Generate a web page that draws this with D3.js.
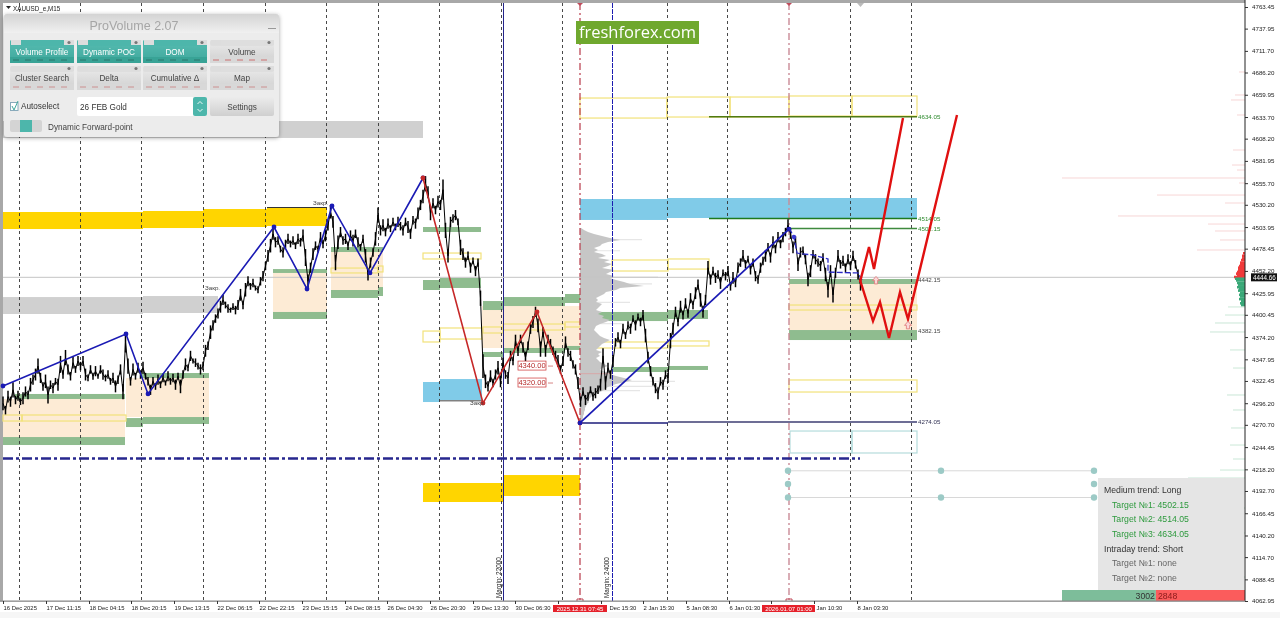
<!DOCTYPE html>
<html><head><meta charset="utf-8">
<script src="https://cdn.jsdelivr.net/npm/d3@7"></script>
<style>
html,body{margin:0;padding:0;background:#fff;overflow:hidden}
svg{display:block;filter:blur(0.35px)}
text{font-family:"Liberation Sans",Arial,sans-serif}
</style></head><body>
<svg id="c" width="1280" height="618"></svg>
<script>
// ---------- axes ----------
const yTickValues=[4763.45,4737.95,4711.70,4686.20,4659.95,4633.70,4608.20,4581.95,4555.70,4530.20,4503.95,4478.45,4452.20,4425.95,4400.45,4374.20,4347.95,4322.45,4296.20,4270.70,4244.45,4218.20,4192.70,4166.45,4140.20,4114.70,4088.45,4062.95];
const xTickCols=[3,46,89,131,174,217,259,302,345,387,430,473,515,558,601,643,686,729,771,814,857];
const xTickLabels=["16 Dec 2025","17 Dec 11:15","18 Dec 04:15","18 Dec 20:15","19 Dec 13:15","22 Dec 06:15","22 Dec 22:15","23 Dec 15:15","24 Dec 08:15","26 Dec 04:30","26 Dec 20:30","29 Dec 13:30","30 Dec 06:30","","Dec 15:30","2 Jan 15:30","5 Jan 08:30","6 Jan 01:30","","Jan 10:30","8 Jan 03:30"];
const xTickLabelShift=[0,0,0,0,0,0,0,0,0,0,0,0,0,0,8,0,0,0,0,2,0];
const currentPrice=4444.66;
// ---------- price series: one value every 2.5 chart columns, from column 3 ----------
const priceStart=3, priceStep=2.5;
const priceValues=[
4296,4288,4304,4298,4312,4300,4305,4298,4302,4310,4306,4318,4324,4330,4340,4326,4316,4322,4306,4318,
4314,4322,4318,4342,4330,4350,4336,4328,4344,4336,4346,4340,4346,4330,4326,4336,4328,4334,4328,4336,
4330,4326,4330,4322,4326,4316,4324,4336,4310,4368,4340,4322,4336,4328,4338,4330,4338,4328,4322,4312,
4322,4316,4324,4318,4326,4320,4328,4322,4326,4318,4328,4316,4330,4342,4338,4352,4346,4344,4340,4336,
4340,4358,4364,4380,4388,4396,4402,4410,4418,4412,4408,4406,4410,4406,4412,4424,4412,4430,4440,4434,
4438,4432,4430,4440,4446,4458,4470,4482,4496,4486,4488,4478,4474,4484,4490,4484,4488,4482,4490,4486,
4494,4468,4440,4456,4472,4482,4478,4492,4484,4494,4506,4522,4510,4462,4486,4498,4488,4490,4482,4494,
4488,4496,4486,4480,4490,4470,4448,4462,4474,4490,4518,4500,4506,4498,4508,4502,4510,4504,4510,4505,
4500,4510,4504,4496,4512,4508,4520,4530,4540,4555,4545,4520,4532,4524,4534,4530,4548,4500,4470,4510,
4514,4518,4510,4480,4472,4462,4470,4456,4464,4452,4462,4420,4340,4322,4316,4328,4320,4330,4338,4322,
4344,4330,4326,4352,4346,4370,4358,4372,4362,4350,4364,4384,4392,4404,4388,4360,4380,4358,4372,4366,
4358,4352,4346,4336,4346,4368,4356,4352,4342,4336,4320,4298,4310,4300,4304,4312,4304,4308,4312,4318,
4352,4320,4338,4330,4346,4368,4374,4366,4384,4376,4388,4384,4396,4388,4398,4392,4400,4376,4350,4334,
4322,4314,4308,4322,4318,4330,4326,4370,4384,4404,4392,4410,4400,4414,4402,4420,4412,4426,4436,4418,
4404,4418,4456,4442,4452,4444,4448,4438,4450,4446,4452,4434,4444,4438,4456,4462,4470,4460,4466,4454,
4462,4446,4442,4456,4464,4470,4480,4468,4486,4478,4492,4484,4492,4498,4506,4496,4480,4488,4460,4474,
4476,4466,4442,4452,4472,4466,4462,4458,4468,4448,4430,4452,4424,4450,4470,4460,4464,4456,4466,4458,
4470,4460,4448,4436];
// half high-low range of each bar, read alongside the values above
const priceRanges=[
8,5,7,6,9,5,6,4,7,6,5,8,6,7,9,6,5,8,10,5,
6,4,7,10,5,9,6,5,7,4,6,5,6,7,4,5,4,6,3,5,
6,4,5,4,6,7,5,6,9,12,9,5,7,4,6,5,7,4,5,6,
5,4,6,4,5,3,6,4,5,6,4,8,5,7,4,6,3,5,4,6,
5,7,5,8,6,5,6,7,6,4,5,3,4,5,6,7,5,8,6,4,
5,3,4,5,6,5,7,8,7,6,5,4,6,5,6,4,5,4,6,5,
7,10,8,6,7,5,4,6,5,7,6,8,7,9,8,6,5,6,5,6,
7,5,6,4,5,8,7,6,5,8,9,6,7,5,6,4,5,4,6,5,
6,5,7,6,5,6,7,6,8,9,7,8,6,5,7,6,12,9,8,6,
5,6,4,9,7,6,5,6,4,6,5,9,14,8,6,7,5,6,8,7,
6,5,7,6,5,7,6,5,6,7,5,6,7,6,8,9,6,7,5,6,
5,6,7,5,6,7,5,6,5,6,7,6,5,6,5,4,5,6,5,7,
9,8,6,5,7,5,6,5,6,4,5,6,4,6,4,5,6,8,7,6,
5,6,7,5,6,5,6,9,7,6,5,7,5,6,5,6,5,7,6,8,
7,6,8,6,5,6,5,7,4,5,6,5,7,5,6,5,7,5,4,6,
5,6,5,6,5,7,5,6,7,5,6,5,6,5,7,6,7,5,8,6,
5,6,8,7,5,6,5,6,5,8,9,7,9,6,7,5,6,5,6,5,
6,5,6,7];
// ---------- zones: [col0, col1, priceTop, priceBottom] ----------
const goldZones=[[3,143,4521.7,4501.6],[143,203,4522.9,4502.8],[203,267,4525.2,4504],[267,327,4526.4,4505.2],[423,503,4202.1,4179.7],[503,580,4211.5,4186.8]];
const grayZones=[[3,423,4629,4609],[3,143,4421.4,4401.4],[143,218,4422.6,4402.6]];
const skyZones=[[423,440,4321.2,4297.6],[440,482,4324.7,4300],[580,667,4537,4512.3],[667,917,4538.2,4514.6]];
const peachZones=[[3,125,4301.2,4256.3],[126,209,4325.9,4279.9],[273,327,4449.8,4403.8],[331,383,4474.5,4429.7],[482,580,4410.8,4361.3],[789,917,4436.8,4382.5]];
const greenZones=[[15,125,4307.1,4301.2],[3,125,4256.3,4246.9],[140,209,4331.8,4325.9],[126,143,4278.7,4268.1],[143,209,4279.9,4271.7],
[273,327,4454.4,4449.8],[273,327,4403.8,4395.5],[331,383,4480.4,4474.5],[331,378,4429.7,4420.3],[378,383,4433.2,4422.6],
[423,481,4504,4498.1],[423,440,4441.5,4429.7],[440,481,4443.9,4432.1],
[483,503,4416.7,4406.1],[503,565,4421.4,4410.8],[565,580,4425,4414.4],[483,503,4356.6,4350.7],[503,565,4361.3,4355.4],[565,580,4363.7,4359],
[593,668,4403.8,4393.1],[668,708,4406.1,4395.5],[612,668,4338.9,4333],[668,708,4340.1,4335.4],
[789,917,4442.7,4436.8],[789,917,4382.5,4370.7]];
const yellowBoxes=[[3,22,4282.3,4275.2],[22,126,4282.3,4275.2],[331,378,4455.6,4449.8],[378,383,4458,4451],[423,481,4473.3,4466.3],[423,440,4381.3,4368.4],[440,482,4384.9,4371.9],
[483,503,4386.1,4379],[503,565,4389.6,4382.5],[565,580,4392,4386.1],[612,668,4465.1,4452.1],[668,709,4466.3,4454.4],[590,668,4368.4,4361.3],[668,709,4369.6,4363.7],
[580,667,4656.1,4632.5],[667,730,4657.3,4633.7],[730,789,4657.3,4633.7],[789,852,4658.5,4634.9],[852,917,4658.5,4634.9],[789,917,4412,4406.1],[789,917,4323.6,4309.4]];
const tealBoxes=[[790,852,4263.4,4237.5],[852,917,4263.4,4237.5]];
// ---------- levels: [col0, col1, price, colour, width] ----------
const levels=[[709,917,4634.05,"#4f7a12",1.3],[709,917,4514.05,"#1d7a1d",1.5],[789,917,4502.15,"#3f8a3f",1.5],[580,668,4272.9,"#1c1c7a",1.5],[668,917,4274.05,"#3d3d72",1.5],[267,327,4527,"#333",1],[440,482,4299,"#444",1]];
const levelLabels=[[918,4634.05,"4634.05","#2e8b2e"],[918,4514.05,"4514.05","#2e8b2e"],[918,4502.15,"4502.15","#2e8b2e"],[918,4442.15,"4442.15","#444"],[918,4382.15,"4382.15","#444"],[918,4274.05,"4274.05","#335"]];
// ---------- zigzags: columns and prices ----------
const blueZigCols=[3,126,148,274,307,332,370,423];
const blueZigPrices=[4316.5,4377.8,4307.1,4504,4430.9,4528.8,4449.8,4561.8];
const redZigCols=[423,483,537,580];
const redZigPrices=[4561.8,4296.4,4403.8,4272.9];
const blue2Cols=[580,789];
const blue2Prices=[4272.9,4501.6];
const stepCols=[789,794,797,803,813,828,828,858,862];
const stepPrices=[4502.8,4492.2,4473.3,4472.2,4471,4466.3,4450.9,4449.8,4441.5];
const proj1Cols=[860,869,874,903];
const proj1Prices=[4439.1,4480.4,4454.5,4632.5];
const proj2Cols=[860,873,880,889,900,908,957];
const proj2Prices=[4441.5,4393.1,4415.6,4373.1,4427.3,4395.5,4636.1];
// ---------- verticals ----------
const dottedCols=[19,80,141,203,265,326,378,439,501,562,667,727,850,911];
// ---------- session volume profile (one row per bucket, from top price down) ----------
const profileTop=4502.8, profileBucket=2.358;
const profileWidths=[1,4,8,14,22,30,40,28,22,20,14,18,14,22,26,18,30,24,32,28,22,34,30,26,34,30,36,44,50,64,40,36,26,24,20,16,18,16,22,20,18,16,22,18,24,22,30,26,20,16,15,14,16,18,20,24,30,26,22,20,18,16,22,18,20,16,18,20,24,28,22,20,26,30,36,44,52,46,36,30,26,24,20,16,12,10,8,9,7,6,5,5,4,4,3,3,2,1];
const profileTailPrices=[4489,4476,4445,4437,4415,4390,4322,4316,4311];
const profileTailWidths=[62,40,78,72,50,42,95,90,60];
// ---------- market depth at right edge: [price, length] ----------
const depthAsks=[[4686.8,6],[4659.7,10],[4653.8,14],[4636.1,8],[4594.8,12],[4577.1,13],[4571.2,8],[4561.8,183],[4555.9,6],[4541.7,88],[4532.3,20],[4517,127],[4507.5,37],[4499.3,30],[4488.7,25],[4476.9,48]];
const depthAskCore=[[4473,2],[4470,3],[4467,3],[4465,4],[4462,5],[4460,5],[4458,6],[4456,7],[4453,7],[4451,8],[4449,9],[4447,8],[4445,11]];
const depthBidCore=[[4443,10],[4441,9],[4438,8],[4436,7],[4433,8],[4431,6],[4429,7],[4426,5],[4424,6],[4422,5],[4419,6],[4417,4],[4414,5],[4412,4]];
const depthBids=[[4409.7,17],[4400.2,20],[4390.8,30],[4380.2,35],[4359,15],[4337.7,12],[4305.9,18],[4288.2,12],[4267,14],[4246.9,15],[4230.4,12],[4217.4,25],[4208,57],[4172.6,17],[4143.1,23],[4091.2,20]];
// ---------- info panel ----------
const infoLines=[["Medium trend: Long",0,"#333"],["Target №1: 4502.15",1,"#2e9a3e"],["Target №2: 4514.05",1,"#2e9a3e"],["Target №3: 4634.05",1,"#2e9a3e"],["Intraday trend: Short",0,"#333"],["Target №1: none",1,"#666"],["Target №2: none",1,"#666"]];
const buyVolume=3002, sellVolume=2848;
// ---------- UI panel ----------
const uiButtons=[["Volume Profile",0,0,1],["Dynamic POC",1,0,1],["DOM",2,0,1],["Volume",3,0,0],["Cluster Search",0,1,0],["Delta",1,1,0],["Cumulative Δ",2,1,0],["Map",3,1,0]];
const dotCols=[788,941,1094], dotPrices=[4216.5,4201,4185];

const W=1280,H=618,svg=d3.select("#c");
const x=d3.scaleLinear().domain([0,1280]).range([0,1280]);
const y=d3.scaleLinear().domain([4763.45,4062.95]).range([7,601]);
const line=(cs,ps)=>d3.line().x((d,i)=>x(cs[i])).y((d,i)=>y(ps[i]))(ps);
const defs=svg.append("defs");
function grad(id,a,b){const g=defs.append("linearGradient").attr("id",id).attr("x1",0).attr("x2",0).attr("y1",0).attr("y2",1);g.append("stop").attr("offset",0).attr("stop-color",a);g.append("stop").attr("offset",1).attr("stop-color",b);}
grad("gH","#d4d4d4","#f0f0f0");grad("gT","#57bdb2","#3fa79c");grad("gG","#ececec","#cfcfcf");
const f=defs.append("filter").attr("id","sh").attr("x","-5%").attr("y","-5%").attr("width","110%").attr("height","115%");
f.append("feDropShadow").attr("dx",0).attr("dy",1).attr("stdDeviation",2).attr("flood-color","#000").attr("flood-opacity",.35);

svg.append("rect").attr("width",W).attr("height",H).attr("fill","#fff");
svg.append("rect").attr("x",0).attr("y",612).attr("width",W).attr("height",6).attr("fill","#f6f6f6");
// borders
svg.append("rect").attr("x",0).attr("y",0).attr("width",3).attr("height",601).attr("fill","#a8a8a8");
svg.append("rect").attr("x",0).attr("y",0).attr("width",1245).attr("height",3).attr("fill","#a8a8a8");

function zones(data,fill,stroke){svg.append("g").selectAll("rect").data(data).join("rect")
 .attr("x",d=>x(d[0])).attr("width",d=>x(d[1])-x(d[0])).attr("y",d=>y(d[2])).attr("height",d=>y(d[3])-y(d[2]))
 .attr("fill",fill).attr("stroke",stroke||"none").attr("stroke-width",stroke?1.2:0);}
zones(peachZones,"#fdebd5");
zones(grayZones,"#d0d0d0");
zones(goldZones,"#ffd500");
zones(skyZones,"#80cbe8");
zones(greenZones,"#8fbc8f");
zones(yellowBoxes,"none","#f2e27a");
zones(tealBoxes,"none","#b5dcdc");

// volume profile
const prof=svg.append("g");
prof.selectAll("line.t").data(profileTailPrices).join("line")
 .attr("x1",x(580)).attr("x2",(d,i)=>x(580+profileTailWidths[i])).attr("y1",d=>y(d)).attr("y2",d=>y(d)).attr("stroke","#e6e6e6").attr("stroke-width",1.2);
prof.append("path").datum(profileWidths)
 .attr("d",d3.area().curve(d3.curveLinear).x0(x(580)).x1(d=>x(580+d)).y((d,i)=>y(profileTop-i*profileBucket)))
 .attr("fill","#c6c6c6");
// verticals
svg.append("g").selectAll("line").data(dottedCols).join("line").attr("x1",d=>x(d)+.5).attr("x2",d=>x(d)+.5).attr("y1",3).attr("y2",601)
 .attr("stroke","#333").attr("stroke-width",.9).attr("stroke-dasharray","3 3");
[[503,"#23238a"],[612,"#1c1cb0"]].forEach(([c,s],i)=>svg.append("line").attr("x1",x(c)+.5).attr("x2",x(c)+.5).attr("y1",3).attr("y2",601).attr("stroke",s).attr("stroke-width",1).attr("stroke-dasharray",i?"5 1":null));
svg.append("line").attr("x1",x(580)).attr("x2",x(580)).attr("y1",3).attr("y2",601).attr("stroke","#b83a4a").attr("stroke-width",1.2).attr("stroke-dasharray","7 3 2 3");
svg.append("line").attr("x1",x(789)).attr("x2",x(789)).attr("y1",3).attr("y2",601).attr("stroke","#c98a96").attr("stroke-width",1.4).attr("stroke-dasharray","7 3 2 3");
[580,789].forEach(c=>{svg.append("path").attr("d",`M${x(c)-3},601v-2h6v2`).attr("fill","none").attr("stroke","#c04a5a").attr("stroke-width",1);
 svg.append("path").attr("d",`M${x(c)-3},3l3,3l3,-3z`).attr("fill","#c04a5a");});
svg.append("path").attr("d",`M${x(857)},3h7l-3.5,4z`).attr("fill","#bbb");
// current price line
svg.append("line").attr("x1",x(3)).attr("x2",x(1245)).attr("y1",y(currentPrice)).attr("y2",y(currentPrice)).attr("stroke","#c4c4c4").attr("stroke-width",1);
// price marker on profile
svg.append("line").attr("x1",x(580)).attr("x2",x(612)).attr("y1",y(4331)).attr("y2",y(4331)).attr("stroke","#d8a8a8").attr("stroke-width",1);

// levels
svg.append("g").selectAll("line").data(levels).join("line").attr("x1",d=>x(d[0])).attr("x2",d=>x(d[1])).attr("y1",d=>y(d[2])).attr("y2",d=>y(d[2])).attr("stroke",d=>d[3]).attr("stroke-width",d=>d[4]);
svg.append("line").attr("x1",x(3)).attr("x2",x(860)).attr("y1",y(4231)).attr("y2",y(4231)).attr("stroke","#27278f").attr("stroke-width",2.6).attr("stroke-dasharray","10 3 3 3");
svg.append("g").selectAll("text").data(levelLabels).join("text").attr("x",d=>x(d[0])).attr("y",d=>y(d[1])+2.3).attr("font-size",6.2).attr("fill",d=>d[3]).text(d=>d[2]);

// price: bars plus connecting line
svg.append("path").attr("d",d3.line().x((d,i)=>x(priceStart+i*priceStep)).y(d=>y(d))(priceValues)).attr("fill","none").attr("stroke","#000").attr("stroke-width",1).attr("stroke-linejoin","miter");
svg.append("g").selectAll("line").data(priceValues).join("line")
 .attr("x1",(d,i)=>x(priceStart+i*priceStep)).attr("x2",(d,i)=>x(priceStart+i*priceStep))
 .attr("y1",(d,i)=>y(d+priceRanges[i])).attr("y2",(d,i)=>y(d-priceRanges[i])).attr("stroke","#000").attr("stroke-width",1.5);
// zigzags
const zig=(cs,ps,col,w,dots,extra)=>{const p=svg.append("path").attr("d",line(cs,ps)).attr("fill","none").attr("stroke",col).attr("stroke-width",w).attr("stroke-linejoin","miter");if(extra)p.attr("stroke-dasharray",extra);
 if(dots)svg.append("g").selectAll("circle").data(ps).join("circle").attr("cx",(d,i)=>x(cs[i])).attr("cy",d=>y(d)).attr("r",2.4).attr("fill",col);};
zig(blueZigCols,blueZigPrices,"#1a1ab4",1.6,true);
zig(redZigCols,redZigPrices,"#c62828",1.6,true);
zig(blue2Cols,blue2Prices,"#1a1ab4",1.7,true);
zig(stepCols,stepPrices,"#2a2ac4",1.3,false,"6 2");
svg.append("circle").attr("cx",x(794)).attr("cy",y(4492.2)).attr("r",2.2).attr("fill","#3b3bd0");
zig(proj1Cols,proj1Prices,"#e01010",2.4,false);
zig(proj2Cols,proj2Prices,"#e01010",2.4,false);
// small arrows
[[876,4441],[908,4388]].forEach(([c,p])=>svg.append("path").attr("transform",`translate(${x(c)},${y(p)})`)
 .attr("d","M0,-4L3.5,0H1.6V3.5H-1.6V0H-3.5Z").attr("fill","#fbd8d8").attr("stroke","#d77").attr("stroke-width",.8));
// red price tags
[[4340,"4340.00"],[4320,"4320.00"]].forEach(([p,t])=>{const yy=y(p)-0;
 svg.append("rect").attr("x",x(518)).attr("width",28).attr("y",yy-5).attr("height",9).attr("fill","#fff").attr("stroke","#c33").attr("stroke-width",.7);
 svg.append("text").attr("x",x(532)).attr("y",yy+2.2).attr("text-anchor","middle").attr("font-size",7.5).attr("fill","#b52a2a").text(t);
 svg.append("line").attr("x1",x(548)).attr("x2",x(553)).attr("y1",yy).attr("y2",yy).attr("stroke","#c66").attr("stroke-width",.8);});
// labels Закр.
[[205,4430,"Закр."],[313,4530,"Закр."],[470,4294,"Закр."]].forEach(([c,p,t])=>svg.append("text").attr("x",x(c)).attr("y",y(p)).attr("font-size",6.2).attr("fill","#444").text(t));
// margin text
[[501,"Margin: 22000"],[609,"Margin: 24000"]].forEach(([c,t])=>svg.append("text").attr("transform",`translate(${x(c)},598) rotate(-90)`).attr("font-size",6.4).attr("fill","#222").text(t));
// dots
const dl=svg.append("g");
[dotPrices[0],dotPrices[2]].forEach(p=>dl.append("line").attr("x1",x(788)).attr("x2",x(1094)).attr("y1",y(p)).attr("y2",y(p)).attr("stroke","#d8d8d8"));
dotPrices.forEach((p,r)=>dotCols.forEach(c=>{if(r===1&&c===941)return;dl.append("circle").attr("cx",x(c)).attr("cy",y(p)).attr("r",3.2).attr("fill","#9ccac6");}));
// depth
const depth=(data,col,op,w)=>svg.append("g").selectAll("line").data(data).join("line").attr("x1",x(1245)).attr("x2",d=>x(1245-d[1])).attr("y1",d=>y(d[0])).attr("y2",d=>y(d[0])).attr("stroke",col).attr("stroke-opacity",op).attr("stroke-width",w);
depth(depthAsks,"#eea5a5",.45,1);depth(depthBids,"#9fd4b6",.55,1);
depth(depthAskCore,"#f03a3a",1,2.6);depth(depthBidCore,"#3aa878",1,2.6);
// info panel
svg.append("rect").attr("x",x(1098)).attr("y",478).attr("width",146).attr("height",112).attr("fill","#e5e5e5");
svg.append("g").selectAll("text").data(infoLines).join("text").attr("x",d=>x(d[1]?1112:1104)).attr("y",(d,i)=>493+i*14.65).attr("font-size",8.7).attr("fill",d=>d[2]).text(d=>d[0]);
const vol=d3.scaleLinear().domain([0,buyVolume+sellVolume]).range([x(1062),x(1245)]);
svg.append("rect").attr("x",vol(0)).attr("y",590).attr("width",vol(buyVolume)-vol(0)).attr("height",11).attr("fill","#7dbd9a");
svg.append("rect").attr("x",vol(buyVolume)).attr("y",590).attr("width",vol(buyVolume+sellVolume)-vol(buyVolume)).attr("height",11).attr("fill","#fb5c5c");
svg.append("text").attr("x",vol(buyVolume)-1).attr("y",599).attr("text-anchor","end").attr("font-size",8.7).attr("fill","#333").text(buyVolume);
svg.append("text").attr("x",vol(buyVolume)+2).attr("y",599).attr("font-size",8.7).attr("fill","#8a1a1a").text(sellVolume);

// axes
const yAxis=svg.append("g").attr("transform","translate(1245,0)").call(d3.axisRight(y).tickValues(yTickValues).tickFormat(d3.format(".2f")).tickSize(3).tickPadding(4));
yAxis.select(".domain").remove();
yAxis.selectAll("text").attr("font-size",6.2).attr("font-family","Liberation Sans").attr("fill","#222");
yAxis.selectAll("line").attr("stroke","#333");
svg.append("line").attr("x1",1245).attr("x2",1245).attr("y1",0).attr("y2",601).attr("stroke","#222").attr("stroke-width",1);
svg.append("rect").attr("x",0).attr("y",600.5).attr("width",1245).attr("height",1.3).attr("fill","#888");
const xAxis=svg.append("g").attr("transform","translate(0,601)").call(d3.axisBottom(x).tickValues(xTickCols).tickFormat((d,i)=>xTickLabels[i]).tickSize(3).tickPadding(2));
xAxis.select(".domain").remove();
xAxis.selectAll("text").attr("text-anchor","start").attr("x",(d,i)=>xTickLabelShift[i]).attr("font-size",5.9).attr("font-family","Liberation Sans").attr("fill","#222");
xAxis.selectAll("line").attr("stroke","#333");
// red time flags
[[553,607,"2025.12.31 07:45"],[762,815,"2026.01.07 01:00"]].forEach(([a,b,t])=>{
 svg.append("rect").attr("x",x(a)).attr("y",605).attr("width",x(b)-x(a)).attr("height",7).attr("fill","#e5202a");
 svg.append("text").attr("x",(x(a)+x(b))/2).attr("y",610.6).attr("text-anchor","middle").attr("font-size",6).attr("fill","#fff").text(t);});
// current price tag
svg.append("rect").attr("x",1251).attr("y",y(currentPrice)-4).attr("width",26).attr("height",8).attr("fill","#111");
svg.append("text").attr("x",1253).attr("y",y(currentPrice)+2.4).attr("font-size",6.3).attr("fill","#fff").text(currentPrice);
// symbol
svg.append("path").attr("d","M6,6h5l-2.5,3z").attr("fill","#222");
svg.append("text").attr("x",13).attr("y",10.5).attr("font-size",6.3).attr("fill","#222").text("XAUUSD_e,M15");
// watermark
svg.append("rect").attr("x",576).attr("y",21).attr("width",123).attr("height",23).attr("fill","#6fa82e");
svg.append("text").attr("x",637.5).attr("y",38).attr("text-anchor","middle").style("font-family","'Open Sans'").attr("font-size",16.5).attr("fill","#fff").text("freshforex.com");

// UI panel
const ui=svg.append("g");
ui.append("rect").attr("x",4).attr("y",14).attr("width",275).attr("height",123).attr("rx",3).attr("fill","#ececec").attr("filter","url(#sh)");
ui.append("path").attr("d","M4,33V17a3,3 0 0 1 3,-3H276a3,3 0 0 1 3,3V33Z").attr("fill","url(#gH)");
ui.append("text").attr("x",134).attr("y",30).attr("text-anchor","middle").attr("font-size",12.5).attr("fill","#a6a6a6").text("ProVolume 2.07");
ui.append("rect").attr("x",268).attr("y",28).attr("width",8).attr("height",1).attr("fill","#999");
const bx=[10,77,143,210], by=[40,66], bw=64, bh=[23,24];
const b=ui.selectAll("g.b").data(uiButtons).join("g");
b.append("rect").attr("x",d=>bx[d[1]]).attr("y",d=>by[d[2]]).attr("width",bw).attr("height",d=>bh[d[2]]).attr("rx",2).attr("fill",d=>d[3]?"url(#gT)":"url(#gG)");
b.append("rect").attr("x",d=>bx[d[1]]).attr("y",d=>by[d[2]]).attr("width",bw).attr("height",6).attr("fill",d=>d[3]?"#4db6ab":"#dedede").attr("rx",2);
b.append("rect").attr("x",d=>bx[d[1]]+1).attr("y",d=>by[d[2]]).attr("width",10).attr("height",5).attr("fill","#ddd");
b.append("rect").attr("x",d=>bx[d[1]]+54).attr("y",d=>by[d[2]]).attr("width",10).attr("height",5).attr("fill","#ddd");
b.append("circle").attr("cx",d=>bx[d[1]]+59).attr("cy",d=>by[d[2]]+2.5).attr("r",1.6).attr("fill","#777");
b.append("rect").attr("x",d=>bx[d[1]]).attr("y",d=>by[d[2]]+bh[d[2]]-6).attr("width",bw).attr("height",6).attr("fill",d=>d[3]?"#38a396":"#d8d8d8");
b.append("line").attr("x1",d=>bx[d[1]]+3).attr("x2",d=>bx[d[1]]+bw-3).attr("y1",d=>by[d[2]]+bh[d[2]]-3).attr("y2",d=>by[d[2]]+bh[d[2]]-3).attr("stroke",d=>d[3]?"#2b6f67":(d[2]?"#c88":"#c66")).attr("stroke-width",.9).attr("stroke-dasharray","6 6");
b.append("text").attr("x",d=>bx[d[1]]+bw/2).attr("y",d=>by[d[2]]+14.5).attr("text-anchor","middle").attr("font-size",8.2).attr("fill",d=>d[3]?"#fff":"#444").text(d=>d[0]);
ui.append("rect").attr("x",10.5).attr("y",102.5).attr("width",7.5).attr("height",8).attr("fill","#fff").attr("stroke","#8ab");
ui.append("path").attr("d","M12,106l2,4l4,-9").attr("fill","none").attr("stroke","#3fa79c").attr("stroke-width",1);
ui.append("text").attr("x",21).attr("y",109).attr("font-size",8.2).attr("fill","#333").text("Autoselect");
ui.append("rect").attr("x",77).attr("y",97).attr("width",130).attr("height",19).attr("rx",2).attr("fill","#fff");
ui.append("rect").attr("x",193).attr("y",97).attr("width",14).attr("height",19).attr("rx",2).attr("fill","#4db6ab");
ui.append("path").attr("d","M197.5,104l2.5,-2.5l2.5,2.5M197.5,109l2.5,2.5l2.5,-2.5").attr("fill","none").attr("stroke","#fff").attr("stroke-width",.9);
ui.append("text").attr("x",80).attr("y",110).attr("font-size",8.2).attr("fill","#333").text("26 FEB Gold");
ui.append("rect").attr("x",210).attr("y",97).attr("width",64).attr("height",19).attr("rx",2).attr("fill","url(#gG)");
ui.append("text").attr("x",242).attr("y",110).attr("text-anchor","middle").attr("font-size",8.2).attr("fill","#444").text("Settings");
ui.append("rect").attr("x",10).attr("y",120).attr("width",32).attr("height",12).attr("rx",2).attr("fill","#d4d4d4");
ui.append("rect").attr("x",20).attr("y",120).attr("width",12).attr("height",12).attr("fill","#4db6ab");
ui.append("text").attr("x",48).attr("y",129.5).attr("font-size",8.2).attr("fill","#444").text("Dynamic Forward-point");
</script></body></html>
